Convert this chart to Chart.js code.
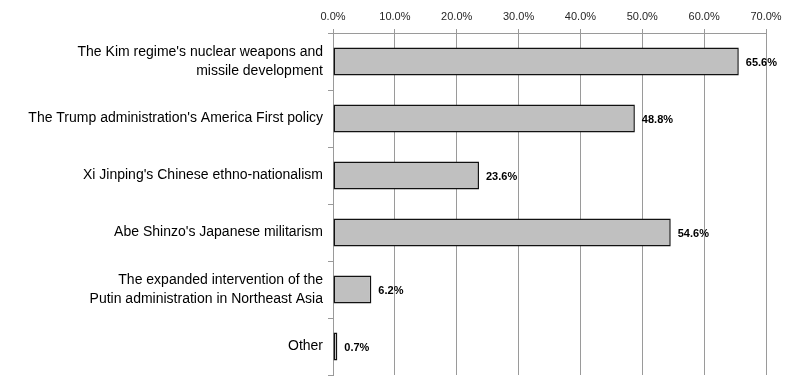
<!DOCTYPE html>
<html>
<head>
<meta charset="utf-8">
<script src="https://cdn.jsdelivr.net/npm/chart.js@4/dist/chart.umd.min.js"></script>
<style>
html,body{margin:0;padding:0;background:#fff;}
#wrap{width:800px;height:380px;position:relative;}
</style>
</head>
<body>
<div id="wrap"><canvas id="c" width="800" height="380"></canvas></div>
<script>
const categories = [
  ["The Kim regime's nuclear weapons and", "missile development"],
  "The Trump administration's America First policy",
  "Xi Jinping's Chinese ethno-nationalism",
  "Abe Shinzo's Japanese militarism",
  ["The expanded intervention of the", "Putin administration in Northeast Asia"],
  "Other"
];
const values = [65.6, 48.8, 23.6, 54.6, 6.2, 0.7];
const xTicks = [0, 10, 20, 30, 40, 50, 60, 70];

const labelPlugin = {
  id: 'barLabels',
  afterDatasetsDraw(chart) {
    const ctx = chart.ctx;
    const meta = chart.getDatasetMeta(0);
    ctx.save();
    ctx.font = 'bold 11px "Liberation Sans", Arial, sans-serif';
    ctx.fillStyle = '#000';
    ctx.textAlign = 'left';
    ctx.textBaseline = 'middle';
    meta.data.forEach((bar, i) => {
      ctx.fillText(values[i].toFixed(1) + '%', bar.x + 7, bar.y + 1);
    });
    ctx.restore();
  }
};

new Chart(document.getElementById('c'), {
  type: 'bar',
  data: {
    labels: categories,
    datasets: [{
      data: values,
      backgroundColor: '#c0c0c0',
      borderColor: '#111',
      borderWidth: 1.5,
      borderSkipped: false,
      barPercentage: 0.49,
      categoryPercentage: 1
    }]
  },
  options: {
    indexAxis: 'y',
    responsive: false,
    animation: false,
    layout: { padding: { left: 0, right: 34, top: 0, bottom: 5 } },
    plugins: { legend: { display: false }, tooltip: { enabled: false } },
    scales: {
      x: {
        position: 'top',
        min: 0, max: 70,
        afterBuildTicks(axis) { axis.ticks = xTicks.map(v => ({ value: v })); },
        afterFit(axis) { axis.height = 33; axis.paddingLeft = 0; axis.paddingRight = 0; },
        ticks: {
          callback: v => v.toFixed(1) + '%',
          font: { family: '"Liberation Sans", Arial, sans-serif', size: 11 },
          color: '#262626',
          padding: 5,
          maxRotation: 0
        },
        grid: { color: '#9a9a9a', lineWidth: 1, tickLength: 4, drawTicks: true },
        border: { color: '#9a9a9a', width: 1 }
      },
      y: {
        afterFit(axis) { axis.width = 333; axis.paddingTop = 0; axis.paddingBottom = 0; },
        ticks: {
          font: { family: '"Liberation Sans", Arial, sans-serif', size: 14, lineHeight: 1.35 },
          color: '#000',
          padding: 5
        },
        grid: { offset: true, drawOnChartArea: false, tickLength: 5, color: '#9a9a9a' },
        border: { color: '#9a9a9a', width: 1 }
      }
    }
  },
  plugins: [labelPlugin]
});
</script>
</body>
</html>
